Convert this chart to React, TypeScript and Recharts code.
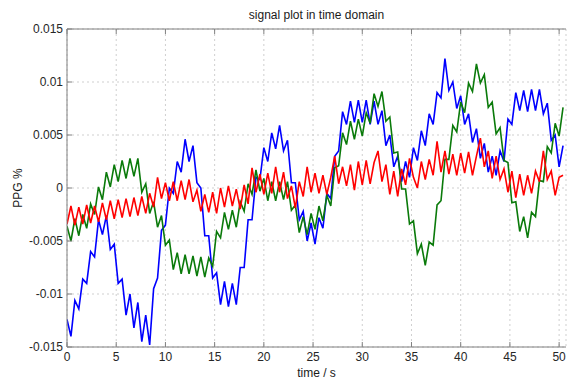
import React from 'react';
import { LineChart, Line, XAxis, YAxis, CartesianGrid } from 'recharts';

const time = [
  0, 0.4, 0.8, 1.2, 1.6, 2, 2.4, 2.8, 3.2, 3.6,
  4, 4.4, 4.8, 5.2, 5.6, 6, 6.4, 6.8, 7.2, 7.6,
  8, 8.4, 8.8, 9.2, 9.6, 10, 10.4, 10.8, 11.2, 11.6,
  12, 12.4, 12.8, 13.2, 13.6, 14, 14.4, 14.8, 15.2, 15.6,
  16, 16.4, 16.8, 17.2, 17.6, 18, 18.4, 18.8, 19.2, 19.6,
  20, 20.4, 20.8, 21.2, 21.6, 22, 22.4, 22.8, 23.2, 23.6,
  24, 24.4, 24.8, 25.2, 25.6, 26, 26.4, 26.8, 27.2, 27.6,
  28, 28.4, 28.8, 29.2, 29.6, 30, 30.4, 30.8, 31.2, 31.6,
  32, 32.4, 32.8, 33.2, 33.6, 34, 34.4, 34.8, 35.2, 35.6,
  36, 36.4, 36.8, 37.2, 37.6, 38, 38.4, 38.8, 39.2, 39.6,
  40, 40.4, 40.8, 41.2, 41.6, 42, 42.4, 42.8, 43.2, 43.6,
  44, 44.4, 44.8, 45.2, 45.6, 46, 46.4, 46.8, 47.2, 47.6,
  48, 48.4, 48.8, 49.2, 49.6, 50, 50.4,
];

const blue = [
  -0.0124, -0.014, -0.0106, -0.0114, -0.0086, -0.009, -0.006, -0.0065, -0.003, -0.0044,
  -0.0026, -0.0058, -0.0053, -0.009, -0.0086, -0.012, -0.01, -0.0132, -0.0108, -0.0145,
  -0.012, -0.0148, -0.0095, -0.0085, -0.004, -0.0035, 0.0, -0.0005, 0.0025, 0.0015,
  0.0046, 0.0025, 0.004, 0.0005, 0.0, -0.0045, -0.0045, -0.0085, -0.008, -0.011,
  -0.0088, -0.0112, -0.009, -0.011, -0.0075, -0.0075, -0.003, -0.003, 0.001, 0.0008,
  0.0038, 0.0025, 0.0052, 0.0037, 0.0059, 0.0035, 0.0045, 0.0005, 0.0005, -0.003,
  -0.0022, -0.005, -0.0033, -0.0053, -0.0028, -0.0038, -0.0005, -0.001, 0.003, 0.0035,
  0.0072, 0.006, 0.0082, 0.0062, 0.0083, 0.0062, 0.0083, 0.006, 0.0082, 0.006,
  0.0073, 0.004, 0.005, 0.002, 0.003, 0.0006, 0.0025, 0.001, 0.0038, 0.0026,
  0.0054, 0.004, 0.007, 0.006, 0.009, 0.0085, 0.0122, 0.0092, 0.01, 0.0075,
  0.0087, 0.006, 0.007, 0.0043, 0.0056, 0.0028, 0.0042, 0.0015, 0.003, 0.0012,
  0.0035, 0.0025, 0.0065, 0.006, 0.009, 0.0073, 0.0092, 0.0072, 0.0093, 0.0073,
  0.0093, 0.007, 0.008, 0.0045, 0.005, 0.002, 0.004,
];

const green = [
  -0.0036, -0.005, -0.0029, -0.0045, -0.0025, -0.0038, -0.0015, -0.0025, 0.0001, -0.0011,
  0.0015, 0.0001, 0.0022, 0.0006, 0.0026, 0.0009, 0.0028, 0.0011, 0.0028, -0.0004,
  0.0004, -0.0024, -0.0013, -0.0037, -0.0026, -0.0054, -0.0049, -0.0077, -0.0061, -0.0081,
  -0.0063, -0.0081, -0.0064, -0.0083, -0.0065, -0.0084, -0.0066, -0.0074, -0.0041, -0.0047,
  -0.0023, -0.0039, -0.0021, -0.0037, -0.0013, -0.0022, 0.0004, -0.0006, 0.0017, -0.0003,
  0.0009, -0.0012, 0.0006, -0.0012, 0.0006, -0.0011, 0.0006, -0.0021, -0.0016, -0.0042,
  -0.0027, -0.0044, -0.0024, -0.0039, -0.0017, -0.0031, -0.0007, -0.0017, 0.0019, 0.0021,
  0.0052, 0.0041, 0.0063, 0.0046, 0.0065, 0.0049, 0.0071, 0.0061, 0.0089, 0.0077,
  0.0091, 0.0063, 0.0067, 0.0033, 0.0034, -0.0001, -0.0001, -0.0034, -0.0031, -0.0062,
  -0.0053, -0.0073, -0.0051, -0.0054, -0.0016, -0.0012, 0.0027, 0.0027, 0.0059, 0.0053,
  0.0081, 0.0071, 0.0099, 0.0091, 0.0117, 0.0099, 0.0107, 0.0076, 0.0081, 0.0051,
  0.0057, 0.0026, 0.0024, -0.0014, -0.0013, -0.0041, -0.0027, -0.0047, -0.0023, -0.0027,
  0.0007, 0.0006, 0.0039, 0.0033, 0.0061, 0.0049, 0.0076,
];

const red = [
  -0.0034, -0.0017, -0.0035, -0.0018, -0.0034, -0.0016, -0.0033, -0.0017, -0.0032, -0.0014,
  -0.003, -0.0012, -0.0029, -0.0011, -0.0028, -0.001, -0.0027, -0.0009, -0.0026, -0.0008,
  -0.0024, -0.0005, -0.0018, 0.001, -0.001, 0.0005, -0.0012, 0.0006, -0.0012, 0.0007,
  -0.0011, 0.0008, -0.0013, -0.0002, -0.0022, -0.0006, -0.0023, -0.0004, -0.0024, 0.0,
  -0.0018, 0.0002, -0.0017, -0.0001, -0.002, 0.0003, -0.0015, 0.0019, -0.0004, 0.0013,
  -0.0006, 0.0014, -0.0005, 0.002, -0.0004, 0.0015, -0.001, 0.0002, -0.0019, 0.0006,
  -0.0008, 0.002, -0.0004, 0.0014, -0.0005, 0.0012, -0.0006, 0.001, 0.003, 0.0004,
  0.002, 0.0002, 0.0022, -0.0002, 0.0025, 0.0003, 0.0026, 0.0004, 0.0024, 0.0035,
  0.0006, 0.0022, -0.0006, 0.0016, -0.0008, 0.0018, 0.0003, 0.0028, 0.001, 0.0,
  0.0025, 0.0008, 0.0027, 0.0012, 0.0044, 0.0015, 0.0035, 0.0013, 0.0032, 0.0012,
  0.0033, 0.0014, 0.0034, 0.0012, 0.003, 0.0047, 0.002, 0.0035, 0.0009, 0.003,
  0.0008, 0.0018, -0.0004, 0.0016, -0.0009, 0.0013, -0.0007, 0.0012, -0.0005, 0.0016,
  0.0006, 0.0035, 0.0008, 0.0016, -0.0007, 0.001, 0.0012,
];

const xTicks = [0, 5, 10, 15, 20, 25, 30, 35, 40, 45, 50];
const yTicks = [-0.015, -0.01, -0.005, 0, 0.005, 0.01, 0.015];
const yTickLabels = ['-0.015', '-0.01', '-0.005', '0', '0.005', '0.01', '0.015'];
const xDomain = [0, 50.7];
const yDomain = [-0.015, 0.015];

const titleText = 'signal plot in time domain';
const xLabelText = 'time / s';
const yLabelText = 'PPG %';

const rows = time.map((t, i) => ({ t, blue: blue[i], green: green[i], red: red[i] }));

const FONT = '"Liberation Sans", Arial, Helvetica, sans-serif';
const AXIS = '#808080';
const TICK = { fill: '#262626', fontSize: 12, fontFamily: FONT };

const yFmt = (v: number) => {
  const i = yTicks.indexOf(v);
  return i >= 0 ? yTickLabels[i] : String(v);
};

const TitleLabel = (props: any) => {
  const vb = props.viewBox || {};
  return (
    <text x={vb.x + vb.width / 2} y={vb.y + 6} textAnchor="middle" dominantBaseline="central"
      fontSize={12} fontFamily={FONT} fill="#1a1a1a">{titleText}</text>
  );
};

const XLabel = (props: any) => {
  const vb = props.viewBox || {};
  return (
    <text x={vb.x + vb.width / 2} y={vb.y + 26} textAnchor="middle" dominantBaseline="central"
      fontSize={12} fontFamily={FONT} fill="#1a1a1a">{xLabelText}</text>
  );
};

const YLabel = (props: any) => {
  const vb = props.viewBox || {};
  const cx = vb.x + 11;
  const cy = vb.y + vb.height / 2;
  return (
    <text x={cx} y={cy} transform={`rotate(-90 ${cx} ${cy})`} textAnchor="middle" dominantBaseline="central"
      fontSize={12} fontFamily={FONT} fill="#1a1a1a">{yLabelText}</text>
  );
};

export default function App() {
  return (
    <div style={{ position: 'absolute', left: 0, top: 0, width: 567, height: 380, background: '#fff', fontFamily: FONT }}>
      <LineChart width={567} height={380} data={rows} margin={{ top: 9, right: 1, bottom: 8, left: 7 }}>
        <CartesianGrid xAxisId="b" yAxisId="l" stroke="#cfcfcf" strokeDasharray="2 3" />
        <XAxis xAxisId="b" dataKey="t" type="number" domain={xDomain} ticks={xTicks} interval={0}
          allowDataOverflow height={25} stroke={AXIS} tickSize={-5} tickMargin={10} tick={TICK}
          label={XLabel} />
        <XAxis xAxisId="t" orientation="top" dataKey="t" type="number" domain={xDomain} ticks={xTicks} interval={0}
          allowDataOverflow height={20} stroke={AXIS} tickSize={-5} tickFormatter={() => ''}
          label={TitleLabel} />
        <YAxis yAxisId="l" type="number" domain={yDomain} ticks={yTicks} interval={0} allowDataOverflow
          width={60} stroke={AXIS} tickSize={-5} tickMargin={9} tick={TICK} tickFormatter={yFmt}
          label={YLabel} />
        <YAxis yAxisId="r" orientation="right" type="number" domain={yDomain} ticks={yTicks} interval={0}
          allowDataOverflow width={0} stroke={AXIS} tickSize={-5} tickFormatter={() => ''} />
        <Line xAxisId="b" yAxisId="l" type="linear" dataKey="blue" stroke="#0000ff" strokeWidth={1.6}
          dot={false} isAnimationActive={false} />
        <Line xAxisId="b" yAxisId="l" type="linear" dataKey="green" stroke="#0a7a0a" strokeWidth={1.6}
          dot={false} isAnimationActive={false} />
        <Line xAxisId="b" yAxisId="l" type="linear" dataKey="red" stroke="#ff0000" strokeWidth={1.6}
          dot={false} isAnimationActive={false} />
      </LineChart>
    </div>
  );
}
